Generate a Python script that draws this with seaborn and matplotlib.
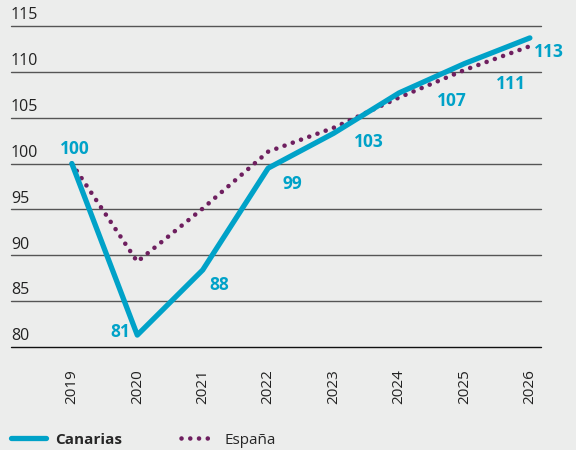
import numpy as np
import pandas as pd
import matplotlib.pyplot as plt
import seaborn as sns

# Values
years = [2019, 2020, 2021, 2022, 2023, 2024, 2025, 2026]
canarias = [100.0, 81.3, 88.4, 99.5, 103.3, 107.7, 110.9, 113.7]
espana = [100.0, 89.3, 95.1, 101.3, 103.9, 107.2, 110.2, 112.8]
canarias_labels = ["100", "81", "88", "99", "103", "107", "111", "113"]
y_ticks = [80, 85, 90, 95, 100, 105, 110, 115]

bg = "#ecedec"
cyan = "#00a2c8"
purple = "#6e1f5f"

sns.set_style("white", {"axes.facecolor": bg, "figure.facecolor": bg})
plt.rcParams["font.family"] = ["Open Sans", "DejaVu Sans"]

df = pd.DataFrame({"year": years, "Canarias": canarias, "España": espana})

fig = plt.figure(figsize=(5.76, 4.5), dpi=100)
ax = fig.add_axes([11 / 576, 103 / 450, 530 / 576, 321 / 450])

sns.lineplot(data=df, x="year", y="España", ax=ax, color=purple, lw=3.3,
             linestyle=(0, (0.01, 1.9)), dash_capstyle="round", label="España",
             clip_on=False, zorder=3)
sns.lineplot(data=df, x="year", y="Canarias", ax=ax, color=cyan, lw=3.8,
             label="Canarias", clip_on=False, zorder=4)

ax.set_xlim(2018.07, 2026.17)
ax.set_ylim(80, 115)
ax.set_xlabel("")
ax.set_ylabel("")

# horizontal grid lines
for v in y_ticks:
    ax.axhline(v, color="#111111" if v == 80 else "#555555", lw=1.0, zorder=1, clip_on=False)
    ax.text(0, v + 0.3, str(v), transform=ax.get_yaxis_transform(),
            ha="left", va="bottom", fontsize=11.5, color="#222222")
ax.set_yticks([])

ax.set_xticks(years)
ax.set_xticklabels([str(y) for y in years], rotation=90, fontsize=11, color="#222222")
ax.tick_params(axis="x", length=0, pad=16)
for s in ax.spines.values():
    s.set_visible(False)

# data labels for Canarias (offsets in pixels)
offsets = [(3, 15), (-17, 3), (17, -15), (24, -16), (35, -9), (53, -8), (46, -20), (19, -14)]
for x, y, t, (dx, dy) in zip(years, canarias, canarias_labels, offsets):
    ax.annotate(t, (x, y), xytext=(dx, dy), textcoords="offset pixels",
                ha="center", va="center", fontsize=12.5, fontweight="bold", color=cyan,
                annotation_clip=False)

ax.legend_.remove()
handles, labels = ax.get_legend_handles_labels()
order = [labels.index("Canarias"), labels.index("España")]
leg = fig.legend([handles[i] for i in order], [labels[i] for i in order],
                 loc="lower left", bbox_to_anchor=(-0.0045, -0.025), ncol=2, frameon=False,
                 fontsize=11, handlelength=2.3, handletextpad=0.55, columnspacing=3.9)
leg.get_texts()[0].set_fontweight("bold")

fig.savefig("out.png", dpi=100, facecolor=bg)
